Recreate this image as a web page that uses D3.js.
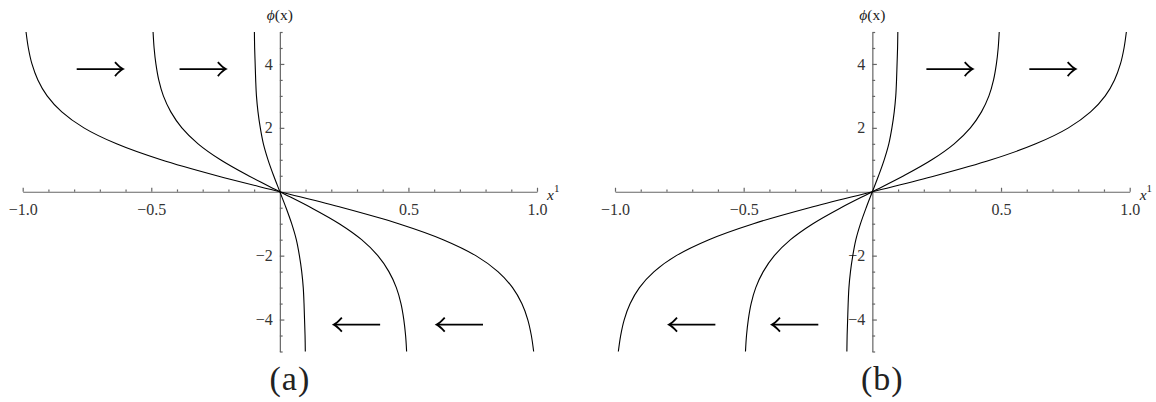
<!DOCTYPE html>
<html>
<head>
<meta charset="utf-8">
<script src="https://cdn.jsdelivr.net/npm/d3@7"></script>
<style>
  html, body { margin: 0; padding: 0; background: #fff; }
  svg { display: block; }
  .axis path, .axis line { stroke: #666; stroke-width: 1.2; }
  .curve { fill: none; stroke: #000; stroke-width: 1.1; }
  .arrow { fill: none; stroke: #000; stroke-width: 1.8; stroke-linecap: butt; }
</style>
</head>
<body>
<svg id="chart" width="1156" height="402"></svg>
<script>
// ---------- Data ----------
// phi levels at which the x position of each curve was read
const phiLevels = [-5, -4.5, -4, -3.5, -3, -2.5, -2, -1.5, -1, -0.5, 0, 0.5, 1, 1.5, 2, 2.5, 3, 3.5, 4, 4.5, 5];

// panel (a): curves fall from upper-left to lower-right
const curveA1 = [0.987, 0.978, 0.964, 0.941, 0.905, 0.848, 0.762, 0.635, 0.462, 0.245, 0, -0.245, -0.462, -0.635, -0.762, -0.848, -0.905, -0.941, -0.964, -0.978, -0.987];
const curveA2 = [0.493, 0.489, 0.482, 0.471, 0.453, 0.424, 0.381, 0.318, 0.231, 0.122, 0, -0.122, -0.231, -0.318, -0.381, -0.424, -0.453, -0.471, -0.482, -0.489, -0.493];
const curveA3 = [0.099, 0.098, 0.096, 0.094, 0.091, 0.085, 0.076, 0.064, 0.046, 0.024, 0, -0.024, -0.046, -0.064, -0.076, -0.085, -0.091, -0.094, -0.096, -0.098, -0.099];

// panel (b): curves rise from lower-left to upper-right
const curveB1 = [-0.987, -0.978, -0.964, -0.941, -0.905, -0.848, -0.762, -0.635, -0.462, -0.245, 0, 0.245, 0.462, 0.635, 0.762, 0.848, 0.905, 0.941, 0.964, 0.978, 0.987];
const curveB2 = [-0.493, -0.489, -0.482, -0.471, -0.453, -0.424, -0.381, -0.318, -0.231, -0.122, 0, 0.122, 0.231, 0.318, 0.381, 0.424, 0.453, 0.471, 0.482, 0.489, 0.493];
const curveB3 = [-0.099, -0.098, -0.096, -0.094, -0.091, -0.085, -0.076, -0.064, -0.046, -0.024, 0, 0.024, 0.046, 0.064, 0.076, 0.085, 0.091, 0.094, 0.096, 0.098, 0.099];

// arrows: [from x, to x, phi] (head at "to")
const arrowsA = [[-0.79, -0.61, 3.84], [-0.39, -0.21, 3.84], [0.39, 0.21, -4.16], [0.79, 0.61, -4.16]];
const arrowsB = [[0.21, 0.39, 3.84], [0.61, 0.79, 3.84], [-0.61, -0.79, -4.16], [-0.21, -0.39, -4.16]];

// ticks
const xMajor = [-1, -0.5, 0.5, 1];
const xMinor = [-0.9, -0.8, -0.7, -0.6, -0.4, -0.3, -0.2, -0.1, 0.1, 0.2, 0.3, 0.4, 0.6, 0.7, 0.8, 0.9];
const yMajor = [-4, -2, 2, 4];
const yMinor = [-5, -4.5, -3.5, -3, -2.5, -1.5, -1, -0.5, 0.5, 1, 1.5, 2.5, 3, 3.5, 4.5, 5];

const captions = ["(a)", "(b)"];

const SERIF = '"Liberation Serif", "DejaVu Serif", serif';

// ---------- Layout ----------
const svg = d3.select("#chart");
const panels = [
  { left: 22.7, right: 537, curves: [curveA1, curveA2, curveA3], arrows: arrowsA, caption: captions[0] },
  { left: 615, right: 1129.7, curves: [curveB1, curveB2, curveB3], arrows: arrowsB, caption: captions[1] }
];
const yTop = 32, yBot = 351.5;

function styleTicks(sel) {
  sel.attr("font-family", null).attr("font-size", null);
  sel.selectAll("text")
    .attr("font-family", SERIF)
    .attr("font-size", 16)
    .attr("fill", "#333");
}

panels.forEach(p => {
  const g = svg.append("g");
  const x = d3.scaleLinear().domain([-1, 1]).range([p.left, p.right]);
  const y = d3.scaleLinear().domain([-5, 5]).range([yBot, yTop]);
  const x0 = x(0), y0 = y(0);

  // x axis: minor then major (ticks point up, labels below)
  g.append("g").attr("class", "axis").attr("transform", `translate(0,${y0})`)
    .call(d3.axisBottom(x).tickValues(xMinor).tickSizeInner(-2.3).tickSizeOuter(0).tickFormat(""));
  g.append("g").attr("class", "axis").attr("transform", `translate(0,${y0})`)
    .call(d3.axisBottom(x).tickValues(xMajor).tickSizeInner(-4).tickSizeOuter(0)
      .tickPadding(12).tickFormat(d3.format(".1f")))
    .call(a => a.select(".domain").remove())
    .call(styleTicks);

  // y axis: ticks point right, labels on the left
  g.append("g").attr("class", "axis").attr("transform", `translate(${x0},0)`)
    .call(d3.axisLeft(y).tickValues(yMinor).tickSizeInner(-2.8).tickSizeOuter(0).tickFormat(""));
  g.append("g").attr("class", "axis").attr("transform", `translate(${x0},0)`)
    .call(d3.axisLeft(y).tickValues(yMajor).tickSizeInner(-4.5).tickSizeOuter(0)
      .tickPadding(7).tickFormat(d3.format("d")))
    .call(a => a.select(".domain").remove())
    .call(styleTicks);

  // axis titles
  const yt = g.append("text").attr("x", x0).attr("y", 20)
    .attr("text-anchor", "middle")
    .attr("font-family", SERIF).attr("font-size", 15.5).attr("fill", "#222");
  yt.append("tspan").attr("font-style", "italic").text("\u03D5");
  yt.append("tspan").text("(x)");

  const xt = g.append("text").attr("x", x(1) + 10).attr("y", 200)
    .attr("font-family", SERIF).attr("font-size", 15.5).attr("fill", "#222");
  xt.append("tspan").attr("font-style", "italic").text("x");
  xt.append("tspan").attr("dy", -8).attr("font-size", 11).text("1");

  // curves
  const line = d3.line()
    .x(d => x(d[0]))
    .y(d => y(d[1]))
    .curve(d3.curveCatmullRom.alpha(0.5));
  p.curves.forEach(c => {
    g.append("path").attr("class", "curve")
      .attr("d", line(c.map((v, i) => [v, phiLevels[i]])));
  });

  // arrows
  p.arrows.forEach(([a, b, phi]) => {
    const xa = x(a), xb = x(b), yy = y(phi);
    const dir = xb > xa ? 1 : -1;
    g.append("line").attr("class", "arrow")
      .attr("x1", xa).attr("y1", yy).attr("x2", xb - dir * 0.8).attr("y2", yy);
    const hx = xb - dir * 8;
    g.append("path").attr("class", "arrow").attr("stroke-width", 1.6)
      .attr("d", `M${hx},${yy - 7} Q${xb - dir * 3},${yy - 1.5} ${xb},${yy} Q${xb - dir * 3},${yy + 1.5} ${hx},${yy + 7}`);
  });

  // caption
  g.append("text").attr("x", x0 + 10).attr("y", 390)
    .attr("text-anchor", "middle")
    .attr("font-family", SERIF).attr("font-size", 34).attr("fill", "#222")
    .attr("letter-spacing", 1)
    .text(p.caption);
});
</script>
</body>
</html>
